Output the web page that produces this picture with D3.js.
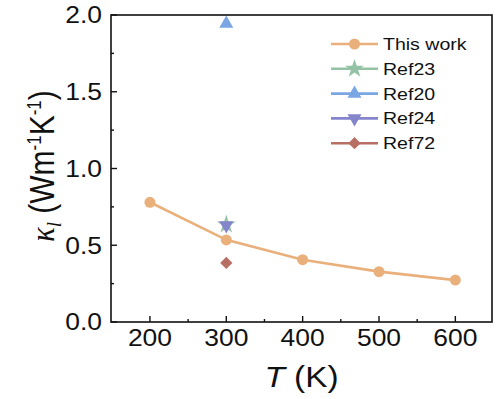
<!DOCTYPE html>
<html>
<head>
<meta charset="utf-8">
<script src="https://cdn.jsdelivr.net/npm/d3@7"></script>
<style>
  body { margin: 0; background: #fff; }
  text { font-family: "Liberation Sans", Arial, sans-serif; fill: #111; }
</style>
</head>
<body>
<div id="chart"></div>
<script>
// data
const temps = [200, 300, 400, 500, 600];
const thisWork = [0.78, 0.535, 0.406, 0.328, 0.273];
const ref23 = [[300, 0.635]];
const ref20 = [[300, 1.944]];
const ref24 = [[300, 0.63]];
const ref72 = [[300, 0.385]];
const xTicks = [200, 300, 400, 500, 600];
const yTicks = [0.0, 0.5, 1.0, 1.5, 2.0];

const width = 500, height = 399;
const margin = {top: 15, right: 8, bottom: 77, left: 111};

const svg = d3.select("#chart").append("svg")
    .attr("width", width)
    .attr("height", height);

const x = d3.scaleLinear().domain([149, 648]).range([margin.left, width - margin.right]);
const y = d3.scaleLinear().domain([0, 2.0]).range([height - margin.bottom, margin.top]);

const sx = 1.15; // text in the picture is a bit wide

// frame
svg.append("rect")
    .attr("x", x.range()[0]).attr("y", y.range()[1])
    .attr("width", x.range()[1] - x.range()[0])
    .attr("height", y.range()[0] - y.range()[1])
    .attr("fill", "none").attr("stroke", "#111").attr("stroke-width", 1.6);

// ticks (inward)
const xMinor = d3.range(250, 650, 100);
const yMinor = d3.range(0.25, 2.0, 0.5);
const ticks = svg.append("g").attr("stroke", "#111").attr("stroke-width", 1.4);
xTicks.forEach(t => ticks.append("line").attr("x1", x(t)).attr("x2", x(t)).attr("y1", y(0)).attr("y2", y(0) - 6));
xMinor.forEach(t => ticks.append("line").attr("x1", x(t)).attr("x2", x(t)).attr("y1", y(0)).attr("y2", y(0) - 3));
yTicks.forEach(t => ticks.append("line").attr("y1", y(t)).attr("y2", y(t)).attr("x1", x.range()[0]).attr("x2", x.range()[0] + 6));
yMinor.forEach(t => ticks.append("line").attr("y1", y(t)).attr("y2", y(t)).attr("x1", x.range()[0]).attr("x2", x.range()[0] + 3));

// tick labels
xTicks.forEach(t => svg.append("text")
    .attr("transform", `translate(${x(t)},${y(0) + 24}) scale(${sx},1)`)
    .attr("text-anchor", "middle")
    .style("font-size", "23px")
    .text(t));
yTicks.forEach(t => svg.append("text")
    .attr("transform", `translate(${x.range()[0] - 9},${y(t) + 8.3}) scale(${sx},1)`)
    .attr("text-anchor", "end")
    .style("font-size", "23px")
    .text(d3.format(".1f")(t)));

// axis titles
const xt = svg.append("text")
    .attr("transform", `translate(${(x.range()[0] + x.range()[1]) / 2},${height - 12}) scale(${sx},1)`)
    .attr("text-anchor", "middle")
    .style("font-size", "29px");
xt.append("tspan").style("font-style", "italic").text("T");
xt.append("tspan").text(" (K)");

const yt = svg.append("text")
    .attr("transform", `translate(54,166) rotate(-90) scale(1,${sx})`)
    .attr("text-anchor", "middle")
    .style("font-size", "30px");
yt.append("tspan").style("font-family", "'Liberation Serif', serif").style("font-style", "italic").text("κ");
yt.append("tspan").style("font-family", "'Liberation Serif', serif").style("font-style", "italic")
    .style("font-size", "19px").attr("dy", 6).text("l");
yt.append("tspan").attr("dy", -6).text(" (Wm");
yt.append("tspan").style("font-size", "17px").attr("dy", -11).text("-1");
yt.append("tspan").attr("dy", 11).text("K");
yt.append("tspan").style("font-size", "17px").attr("dy", -11).text("-1");
yt.append("tspan").attr("dy", 11).text(")");

// series definitions
const series = [
  {name: "This work", color: "#EAB07C", sym: d3.symbolCircle, size: 95, rot: 0},
  {name: "Ref23", color: "#93C3A4", sym: d3.symbolStar, size: 110, rot: 0, data: ref23},
  {name: "Ref20", color: "#7BA6E4", sym: d3.symbolTriangle, size: 85, rot: 0, data: ref20},
  {name: "Ref24", color: "#8585CC", sym: d3.symbolTriangle, size: 85, rot: 180, data: ref24},
  {name: "Ref72", color: "#B86F63", sym: d3.symbolSquare, size: 75, rot: 45, data: ref72}
];

// This work line
const line = d3.line().x((d, i) => x(temps[i])).y(d => y(d));
svg.append("path")
    .datum(thisWork)
    .attr("d", line)
    .attr("fill", "none")
    .attr("stroke", series[0].color)
    .attr("stroke-width", 2.6);

function marker(g, s, cx, cy) {
  g.append("path")
      .attr("d", d3.symbol().type(s.sym).size(s.size)())
      .attr("transform", `translate(${cx},${cy}) rotate(${s.rot})`)
      .attr("fill", s.color);
}

thisWork.forEach((v, i) => marker(svg, series[0], x(temps[i]), y(v)));
series.slice(1).forEach(s => s.data.forEach(d => marker(svg, s, x(d[0]), y(d[1]))));

// legend
const leg = svg.append("g");
series.forEach((s, i) => {
  const ly = 44 + i * 24.8;
  leg.append("line")
      .attr("x1", 331).attr("x2", 378).attr("y1", ly).attr("y2", ly)
      .attr("stroke", s.color).attr("stroke-width", 2.6);
  marker(leg, s, 354.5, ly);
  leg.append("text")
      .attr("transform", `translate(383,${ly + 6}) scale(${sx},1)`)
      .style("font-size", "17px")
      .text(s.name);
});
</script>
</body>
</html>
